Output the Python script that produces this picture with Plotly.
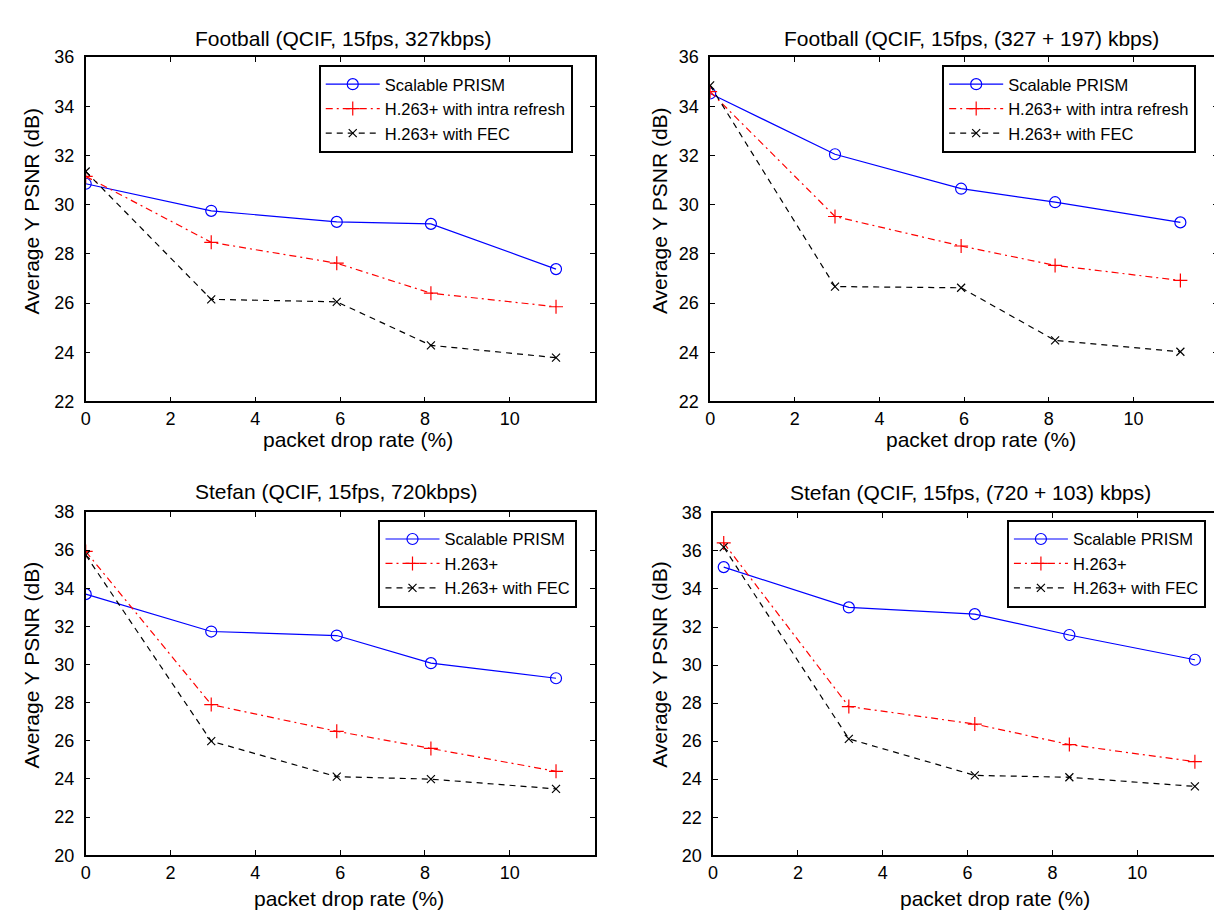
import plotly.graph_objects as go

W, H = 1222, 913

# ---- data ----
x_fb_a = [0.0, 2.96, 5.92, 8.14, 11.09]
fb_a_prism = [30.85, 29.75, 29.3, 29.22, 27.38]
fb_a_intra = [31.15, 28.47, 27.62, 26.4, 25.85]
fb_a_fec = [31.35, 26.15, 26.05, 24.28, 23.78]

x_fb_b = [0.0, 2.95, 5.93, 8.15, 11.11]
fb_b_prism = [34.52, 32.05, 30.65, 30.1, 29.28]
fb_b_intra = [34.6, 29.52, 28.32, 27.53, 26.92]
fb_b_fec = [34.85, 26.67, 26.62, 24.48, 24.02]

x_st_a = [0.0, 2.96, 5.92, 8.14, 11.09]
st_a_prism = [33.69, 31.73, 31.52, 30.07, 29.28]
st_a_h263 = [35.93, 27.9, 26.5, 25.6, 24.4]
st_a_fec = [35.74, 25.98, 24.12, 23.99, 23.48]

x_st_b = [0.25, 3.2, 6.17, 8.4, 11.36]
st_b_prism = [35.15, 33.03, 32.68, 31.58, 30.28]
st_b_h263 = [36.42, 27.82, 26.9, 25.82, 24.92]
st_b_fec = [36.2, 26.12, 24.2, 24.1, 23.62]

titles = [
    "Football (QCIF, 15fps, 327kbps)",
    "Football (QCIF, 15fps, (327 + 197) kbps)",
    "Stefan (QCIF, 15fps, 720kbps)",
    "Stefan (QCIF, 15fps, (720 + 103) kbps)",
]
names_a = ["Scalable PRISM", "H.263+ with intra refresh", "H.263+ with FEC"]
names_b = ["Scalable PRISM", "H.263+", "H.263+ with FEC"]
x_label = "packet drop rate (%)"
y_label = "Average Y PSNR (dB)"
x_ticks = [0, 2, 4, 6, 8, 10]
x_range = [0, 12]
y_range_top = [22, 36]
y_range_bot = [20, 38]

FONT = "Liberation Sans, Arial, Helvetica, sans-serif"

# panel geometry in pixels: left, right, top, bottom
panels = [
    dict(px=(73, 584, 40, 392), x=x_fb_a, ys=[fb_a_prism, fb_a_intra, fb_a_fec], names=names_a,
         yr=y_range_top, title=(331, 21), xl=(346, 431), yl=(19, 197), leg=(307, 48)),
    dict(px=(700, 1210, 40, 392), x=x_fb_b, ys=[fb_b_prism, fb_b_intra, fb_b_fec], names=names_a,
         yr=y_range_top, title=(962, 21), xl=(972, 431), yl=(649, 197), leg=(933, 48)),
    dict(px=(73, 584, 505, 856), x=x_st_a, ys=[st_a_prism, st_a_h263, st_a_fec], names=names_b,
         yr=y_range_bot, title=(324, 484), xl=(337, 900), yl=(19, 661), leg=(367, 513)),
    dict(px=(703, 1214, 506, 856), x=x_st_b, ys=[st_b_prism, st_b_h263, st_b_fec], names=names_b,
         yr=y_range_bot, title=(961, 485), xl=(986, 900), yl=(649, 661), leg=(998, 513)),
]

styles = [
    dict(color="#0000ff", dash="solid", symbol="circle-open", size=11),
    dict(color="#ff0000", dash="7px,4px,2px,4px", symbol="cross-thin-open", size=10),
    dict(color="#000000", dash="6px,5px", symbol="x-thin-open", size=8),
]

fig = go.Figure()
layout = dict(
    width=W, height=H, margin=dict(l=0, r=0, t=0, b=0),
    paper_bgcolor="white", plot_bgcolor="white",
    font=dict(family=FONT, color="black"),
    showlegend=True, annotations=[],
)

for i, p in enumerate(panels):
    k = "" if i == 0 else str(i + 1)
    l, r, t, b = p["px"]
    legname = "legend" + k
    for ys, nm, st in zip(p["ys"], p["names"], styles):
        fig.add_trace(go.Scatter(
            x=p["x"], y=ys, name=nm, mode="lines+markers",
            xaxis="x" + k, yaxis="y" + k, legend=legname,
            line=dict(color=st["color"], width=1.2, dash=st["dash"]),
            marker=dict(symbol=st["symbol"], size=st["size"], color=st["color"],
                        line=dict(color=st["color"], width=1.2)),
        ))
    axcommon = dict(
        showline=True, linecolor="black", linewidth=1.5, mirror="ticks",
        ticks="inside", ticklen=5, tickwidth=1, tickcolor="black",
        showgrid=False, zeroline=False, tickfont=dict(size=18, family=FONT, color="black"),
    )
    layout["xaxis" + k] = dict(domain=[l / W, r / W], range=x_range, tickvals=x_ticks,
                               anchor="y" + k, ticklabelstandoff=0, **axcommon)
    layout["yaxis" + k] = dict(domain=[1 - b / H, 1 - t / H], range=p["yr"], dtick=2,
                               tick0=0, anchor="x" + k, ticklabelstandoff=6, **axcommon)
    lx, ly = p["leg"]
    layout[legname] = dict(
        x=lx / W, y=1 - ly / H, xanchor="left", yanchor="top",
        xref="paper", yref="paper",
        bgcolor="white", bordercolor="black", borderwidth=2,
        font=dict(size=16.5, family=FONT, color="black"),
        itemwidth=54, tracegroupgap=0,
    )
    tx, ty = p["title"]
    layout["annotations"].append(dict(
        text=titles[i], x=tx / W, y=1 - ty / H, xref="paper", yref="paper",
        showarrow=False, xanchor="center", yanchor="middle",
        font=dict(size=21, family=FONT, color="black")))
    ax_, ay_ = p["xl"]
    layout["annotations"].append(dict(
        text=x_label, x=ax_ / W, y=1 - ay_ / H, xref="paper", yref="paper",
        showarrow=False, xanchor="center", yanchor="middle",
        font=dict(size=21, family=FONT, color="black")))
    bx, by = p["yl"]
    layout["annotations"].append(dict(
        text=y_label, x=bx / W, y=1 - by / H, xref="paper", yref="paper",
        showarrow=False, xanchor="center", yanchor="middle", textangle=-90,
        font=dict(size=21, family=FONT, color="black")))

fig.update_layout(**layout)
fig.write_html("out.html")
